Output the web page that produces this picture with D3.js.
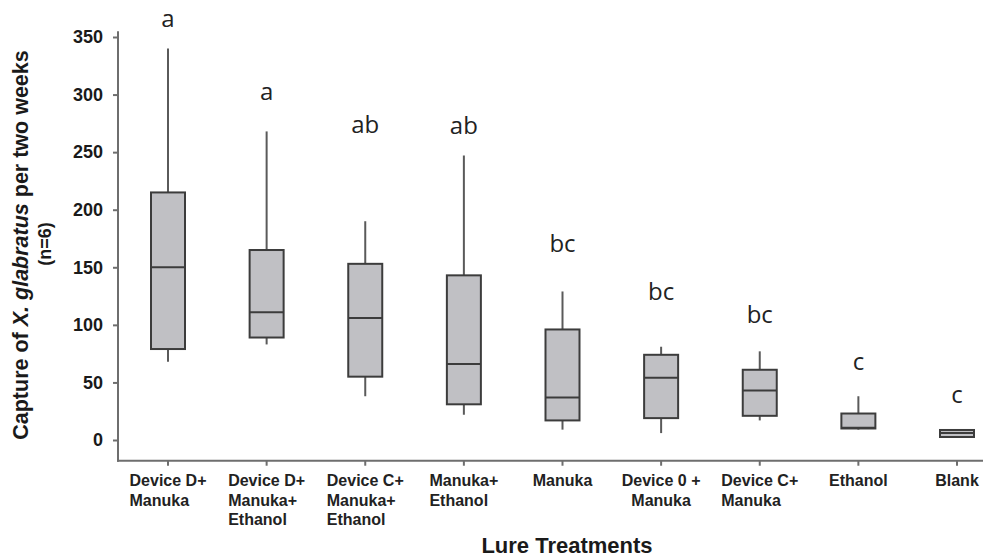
<!DOCTYPE html>
<html>
<head>
<meta charset="utf-8">
<script src="https://cdn.jsdelivr.net/npm/d3@7"></script>
<style>
  body { margin: 0; background: #fff; }
  svg { display: block; }
  .tick text { font-family: "Liberation Sans", Arial, sans-serif; font-weight: bold; }
</style>
</head>
<body>
<svg id="chart" width="983" height="557"></svg>
<script>
// lure treatments, each label split in lines
const treatments = [
  ["Device D+", "Manuka"],
  ["Device D+", "Manuka+", "Ethanol"],
  ["Device C+", "Manuka+", "Ethanol"],
  ["Manuka+", "Ethanol"],
  ["Manuka"],
  ["Device 0 +", "Manuka"],
  ["Device C+", "Manuka"],
  ["Ethanol"],
  ["Blank"]
]
// box stats
const whiskerLow = [68, 83, 38, 22, 9, 6, 17, 9, 2]
const q1 = [79, 89, 55, 31, 17, 19, 21, 10, 2.6]
const median = [150, 111, 106, 66, 37, 54, 43, 10.7, 6]
const q3 = [215, 165, 153, 143, 96, 74, 61, 23, 8.7]
const whiskerHigh = [340, 268, 190, 247, 129, 81, 77, 38, 9.5]
// significance letters and the value their baseline sits at
const letters = ["a", "a", "ab", "ab", "bc", "bc", "bc", "c", "c"]
const letterAt = [359, 295, 267, 266, 163, 122, 102, 61, 32]
const yTicks = [0, 50, 100, 150, 200, 250, 300, 350]

const boxes = treatments.map((t, i) => ({
  key: t.join(" "), lines: t,
  lo: whiskerLow[i], q1: q1[i], med: median[i], q3: q3[i], hi: whiskerHigh[i],
  letter: letters[i], letterAt: letterAt[i]
}))

const svg = d3.select("#chart")

const x = d3.scalePoint()
  .domain(boxes.map(d => d.key))
  .range([168, 957])

const y = d3.scaleLinear()
  .domain([0, 350])
  .range([440, 37])

const axisX = 118
const axisY = y(-18)
const boxW = 34
const axisColor = "#6e6e6e"

// y axis
const yAxis = svg.append("g")
  .attr("transform", `translate(${axisX},0)`)
  .call(d3.axisLeft(y).tickValues(yTicks).tickSize(5).tickPadding(10))
yAxis.select(".domain").remove()
yAxis.selectAll(".tick line").attr("stroke", axisColor).attr("stroke-width", 2)
yAxis.selectAll(".tick text").attr("font-size", 18).attr("fill", "#1a1a1a")

svg.append("line")
  .attr("x1", axisX).attr("x2", axisX)
  .attr("y1", y(355)).attr("y2", axisY + 1)
  .attr("stroke", axisColor).attr("stroke-width", 2)

// x axis
svg.append("line")
  .attr("x1", axisX - 1).attr("x2", 983)
  .attr("y1", axisY).attr("y2", axisY)
  .attr("stroke", axisColor).attr("stroke-width", 2)

svg.append("g").selectAll("line")
  .data(boxes)
  .join("line")
  .attr("x1", d => x(d.key)).attr("x2", d => x(d.key))
  .attr("y1", axisY).attr("y2", axisY + 5)
  .attr("stroke", axisColor).attr("stroke-width", 2)

// category labels: left aligned block, except "Device 0 +" which is centred
const labelG = svg.append("g")
  .attr("font-family", "'Liberation Sans', Arial, sans-serif")
  .attr("font-weight", "bold")
  .attr("font-size", 16)
  .attr("fill", "#222")

boxes.forEach(d => {
  const cx = x(d.key)
  const t = labelG.append("text")
  const centred = d.key.startsWith("Device 0") || d.lines.length == 1
  t.selectAll("tspan")
    .data(d.lines)
    .join("tspan")
    .attr("x", cx)
    .attr("y", (l, i) => 486 + i * 19.5)
    .text(l => l)
  if (centred) {
    t.attr("text-anchor", "middle")
  } else {
    const w = t.node().getBBox().width
    t.selectAll("tspan").attr("x", cx - w / 2)
  }
})

// boxes
const g = svg.append("g").selectAll("g")
  .data(boxes)
  .join("g")

g.append("line")
  .attr("x1", d => x(d.key)).attr("x2", d => x(d.key))
  .attr("y1", d => y(d.hi)).attr("y2", d => y(d.lo))
  .attr("stroke", "#5a5a5a").attr("stroke-width", 2)

g.append("rect")
  .attr("x", d => x(d.key) - boxW / 2)
  .attr("width", boxW)
  .attr("y", d => y(d.q3))
  .attr("height", d => y(d.q1) - y(d.q3))
  .attr("fill", "#c0c0c4")
  .attr("stroke", "#3c3c3c")
  .attr("stroke-width", 2)

g.append("line")
  .attr("x1", d => x(d.key) - boxW / 2).attr("x2", d => x(d.key) + boxW / 2)
  .attr("y1", d => y(d.med)).attr("y2", d => y(d.med))
  .attr("stroke", "#3c3c3c").attr("stroke-width", 2)

g.append("text")
  .attr("x", d => x(d.key))
  .attr("y", d => y(d.letterAt))
  .attr("text-anchor", "middle")
  .attr("font-family", "'Open Sans', sans-serif")
  .attr("font-size", 24)
  .attr("fill", "#222")
  .text(d => d.letter)

// axis titles
svg.append("text")
  .attr("x", 567).attr("y", 553)
  .attr("text-anchor", "middle")
  .attr("font-family", "'Liberation Sans', Arial, sans-serif")
  .attr("font-weight", "bold")
  .attr("font-size", 22)
  .attr("fill", "#1a1a1a")
  .text("Lure Treatments")

const yTitle = svg.append("text")
  .attr("transform", "translate(28,245) rotate(-90)")
  .attr("text-anchor", "middle")
  .attr("font-family", "'Liberation Sans', Arial, sans-serif")
  .attr("font-weight", "bold")
  .attr("font-size", 21.5)
  .attr("fill", "#1a1a1a")
yTitle.append("tspan").text("Capture of ")
yTitle.append("tspan").attr("font-style", "italic").text("X. glabratus")
yTitle.append("tspan").text(" per two weeks")

svg.append("text")
  .attr("transform", "translate(51,244) rotate(-90)")
  .attr("text-anchor", "middle")
  .attr("font-family", "'Liberation Sans', Arial, sans-serif")
  .attr("font-weight", "bold")
  .attr("font-size", 18)
  .attr("fill", "#1a1a1a")
  .text("(n=6)")
</script>
</body>
</html>
